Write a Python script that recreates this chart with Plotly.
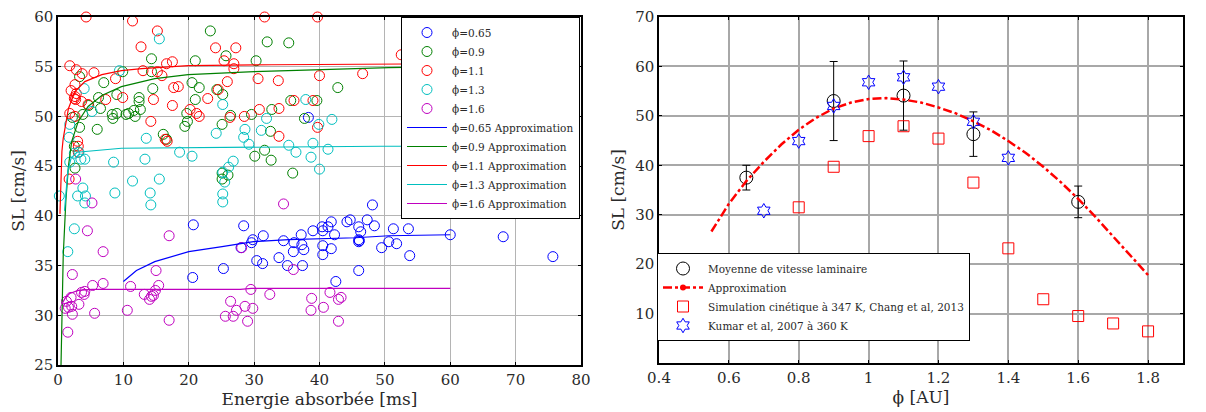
import plotly.graph_objects as go

# ---------------- Left panel data (Energie absorbée [ms], SL [cm/s]) ----------------
phi065_x = [38.3, 48.1, 20.7, 28.4, 44.7, 44.2, 47.3, 48.4, 41.8, 40.4, 41.3, 40.5, 42.3, 46.0, 46.3, 39.0, 37.2,
            51.3, 53.6, 31.4, 29.8, 29.6, 34.5, 36.1, 37.3, 37.6, 36.0, 40.5, 41.8, 40.5, 46.0, 46.0, 46.1, 50.6,
            51.8, 49.5, 28.0, 30.4, 31.3, 33.8, 35.1, 37.4, 25.3, 46.0, 20.6, 42.5, 53.8, 60.0, 68.1, 75.7]
phi065_y = [49.9, 41.1, 39.1, 39.0, 39.6, 39.4, 39.6, 39.0, 39.4, 38.9, 38.9, 38.5, 38.1, 38.9, 38.4, 38.5, 38.1,
            38.7, 38.7, 38.0, 37.6, 37.3, 37.5, 37.3, 37.1, 36.6, 36.4, 37.0, 36.7, 36.1, 37.6, 37.4, 37.5, 37.4,
            37.2, 36.8, 36.8, 35.5, 35.2, 35.8, 35.0, 35.0, 34.7, 34.5, 33.8, 33.4, 36.0, 38.1, 37.9, 35.9]

phi09_x = [23.3, 32.0, 35.3, 25.7, 14.3, 21.0, 30.3, 9.9, 14.3, 3.3, 7.0, 14.5, 20.5, 21.6, 24.3, 25.2, 42.8, 9.0,
           6.2, 12.4, 12.4, 21.0, 35.6, 39.6, 6.5, 4.7, 12.6, 11.6, 10.8, 9.0, 8.3, 8.4, 10.4, 11.8, 19.7, 19.8,
           19.4, 3.8, 2.2, 3.3, 6.0, 25.1, 26.4, 29.6, 32.7, 37.7, 16.1, 16.6, 32.5, 31.6, 30.1, 32.6, 35.9, 2.5,
           2.6, 25.1, 26.0, 25.1]
phi09_y = [58.6, 57.5, 57.4, 56.1, 55.8, 55.6, 55.6, 54.5, 54.5, 54.0, 53.4, 52.8, 53.4, 52.9, 52.7, 52.2, 52.9, 52.2,
           51.9, 51.9, 51.5, 51.7, 51.6, 51.6, 50.8, 51.1, 50.7, 50.6, 50.3, 50.3, 50.2, 49.8, 50.2, 50.0, 50.3, 49.5,
           49.0, 50.2, 49.9, 48.9, 48.7, 49.2, 50.1, 50.2, 50.7, 49.8, 48.2, 47.7, 48.5, 46.6, 46.0, 45.6, 44.3, 47.0,
           44.8, 44.3, 44.1, 43.7]

phi11_x = [4.3, 11.4, 15.2, 12.7, 31.6, 39.7, 24.1, 27.2, 25.4, 26.9, 26.9, 17.5, 16.6, 1.8, 2.8, 3.7, 5.5, 13.0,
           15.2, 15.9, 8.8, 40.0, 46.6, 30.6, 33.7, 25.9, 2.6, 2.0, 2.8, 17.7, 18.4, 24.5, 9.9, 7.3, 2.5, 2.7, 2.6,
           3.6, 4.6, 14.6, 22.9, 17.5, 20.2, 21.2, 21.6, 1.8, 2.6, 14.2, 26.3, 28.5, 30.8, 33.8, 36.1, 39.0, 39.7,
           33.8, 16.4, 16.7, 3.0, 3.1, 3.1, 1.7, 52.5]
phi11_y = [60.0, 59.6, 58.6, 57.0, 60.0, 60.0, 56.9, 56.9, 55.6, 55.3, 54.8, 55.5, 55.3, 55.1, 54.7, 54.3, 54.4, 54.6,
           54.5, 54.1, 53.8, 54.1, 54.3, 53.8, 53.6, 53.5, 53.2, 52.6, 52.3, 52.9, 53.0, 52.7, 51.9, 51.7, 51.8, 51.7,
           52.0, 51.5, 51.2, 51.7, 51.8, 51.1, 50.7, 50.3, 50.0, 50.3, 50.0, 49.5, 49.9, 50.0, 50.7, 50.8, 51.6, 51.6,
           48.9, 48.0, 47.7, 47.5, 47.5, 47.0, 46.4, 43.7, 56.2]

phi13_x = [15.5, 9.4, 4.0, 5.2, 25.2, 37.9, 31.9, 41.9, 39.9, 28.6, 28.4, 31.1, 24.2, 29.2, 13.5, 1.8, 1.7, 2.5,
           3.2, 3.5, 4.1, 18.6, 20.5, 26.8, 35.3, 36.4, 39.0, 41.3, 38.7, 40.0, 13.3, 8.5, 1.8, 11.4, 15.5, 3.8,
           0.2, 3.0, 4.2, 4.1, 8.7, 14.1, 14.2, 26.1, 25.2, 25.5, 25.2, 25.2, 2.5, 1.5]
phi13_y = [57.8, 54.6, 52.8, 50.5, 51.2, 51.7, 49.8, 49.7, 49.2, 48.7, 47.9, 48.6, 48.3, 47.2, 47.8, 49.2, 47.9, 46.3,
           46.4, 45.7, 45.7, 46.4, 46.0, 45.5, 47.1, 46.4, 47.3, 46.7, 45.9, 44.7, 45.7, 45.4, 45.4, 43.5, 43.7, 42.8,
           42.0, 42.0, 42.0, 41.3, 42.3, 42.3, 41.1, 44.9, 44.4, 43.4, 42.2, 41.4, 38.7, 36.4]

phi16_x = [2.7, 5.2, 34.5, 4.5, 17.0, 6.9, 28.1, 2.2, 6.9, 5.3, 15.0, 15.4, 14.9, 14.6, 14.3, 13.2, 14.0, 11.1,
           10.6, 17.0, 5.6, 3.6, 4.0, 4.1, 3.2, 2.0, 1.3, 1.1, 1.6, 2.1, 2.2, 1.5, 29.5, 32.4, 26.4, 28.6, 29.8,
           27.3, 25.6, 26.8, 29.0, 36.0, 38.8, 38.7, 40.6, 41.6, 43.3, 42.9, 42.9]
phi16_y = [43.7, 41.3, 41.2, 38.5, 38.0, 36.4, 36.8, 34.1, 33.2, 33.0, 34.5, 33.0, 32.5, 32.0, 31.9, 32.1, 31.6, 32.9,
           30.5, 29.5, 30.2, 32.3, 32.1, 32.4, 31.1, 31.8, 31.4, 30.7, 30.8, 30.9, 30.1, 28.3, 32.6, 32.1, 31.4, 30.9,
           30.7, 30.5, 29.9, 29.9, 29.4, 34.6, 31.7, 30.5, 30.8, 32.3, 31.8, 31.6, 29.4]

# approximation curves
fit065_x = [10.0, 12.0, 14.8, 20.0, 25.1, 29.9, 35.3, 39.8, 45.5, 50.6, 60.0]
fit065_y = [33.4, 34.5, 35.4, 36.4, 36.9, 37.4, 37.6, 37.7, 37.8, 38.0, 38.1]
fit09_x = [0.46, 0.8, 1.2, 1.6, 2.1, 3.1, 4.6, 6.7, 9.7, 14.8, 19.9, 30.0, 40.4, 50.6, 60.0]
fit09_y = [25.0, 36.0, 41.5, 45.0, 47.5, 49.5, 51.0, 52.1, 53.0, 53.8, 54.2, 54.5, 54.7, 54.9, 55.0]
fit11_x = [0.3, 0.45, 0.6, 0.8, 1.1, 1.6, 2.6, 4.1, 6.7, 9.7, 12.8, 19.9, 32.7, 60.0]
fit11_y = [40.2, 44.0, 46.5, 47.8, 49.0, 50.8, 52.5, 53.5, 54.2, 54.6, 54.8, 55.1, 55.2, 55.3]
fit13_x = [1.0, 1.5, 2.0, 2.9, 9.7, 27.1, 49.5, 60.0]
fit13_y = [40.5, 44.5, 45.8, 46.4, 46.8, 46.9, 47.0, 47.0]
fit16_x = [0.56, 1.07, 1.8, 3.1, 5.2, 27.9, 29.6, 60.0]
fit16_y = [31.1, 31.7, 32.2, 32.5, 32.6, 32.6, 32.7, 32.7]

# ---------------- Right panel data (phi [AU], SL [cm/s]) ----------------
moy_phi = [0.65, 0.9, 1.1, 1.3, 1.6]
moy_sl = [37.5, 53.0, 54.1, 46.3, 32.6]
moy_err = [2.5, 8.0, 7.0, 4.5, 3.2]

approx_phi = [0.55, 0.6, 0.65, 0.7, 0.75, 0.8, 0.85, 0.9, 0.95, 1.0, 1.05, 1.1, 1.15, 1.2, 1.25, 1.3,
              1.35, 1.4, 1.45, 1.5, 1.55, 1.6, 1.65, 1.7, 1.75, 1.8]
approx_sl = [26.6, 32.2, 36.8, 40.7, 44.2, 47.2, 49.6, 51.5, 52.7, 53.4, 53.6, 53.3, 52.7, 51.7, 50.5, 48.9,
             47.1, 44.9, 42.5, 39.7, 36.6, 33.2, 29.5, 25.6, 21.7, 17.8]

chang_phi = [0.8, 0.9, 1.0, 1.1, 1.2, 1.3, 1.4, 1.5, 1.6, 1.7, 1.8]
chang_sl = [31.5, 39.7, 45.9, 47.9, 45.4, 36.5, 23.2, 12.9, 9.5, 8.0, 6.4]

kumar_phi = [0.7, 0.8, 0.9, 1.0, 1.1, 1.2, 1.3, 1.4]
kumar_sl = [30.8, 44.9, 52.0, 56.8, 57.8, 55.9, 48.8, 41.5]

left_series = [
    ("ϕ=0.65", phi065_x, phi065_y, fit065_x, fit065_y, "#0000ff"),
    ("ϕ=0.9", phi09_x, phi09_y, fit09_x, fit09_y, "#008000"),
    ("ϕ=1.1", phi11_x, phi11_y, fit11_x, fit11_y, "#ff0000"),
    ("ϕ=1.3", phi13_x, phi13_y, fit13_x, fit13_y, "#00bfbf"),
    ("ϕ=1.6", phi16_x, phi16_y, fit16_x, fit16_y, "#bf00bf"),
]

# page body has an 8px margin: the figure is drawn 8px in from the top-left corner
OFF = 8
W, H = 1206 - OFF, 412 - OFF


def px(x):
    return (x - OFF) / W


def py(y):
    return 1 - (y - OFF) / H


FONT = "DejaVu Serif, Liberation Serif, serif"
TXT = "#2a2a2a"
fig = go.Figure()

for name, xs, ys, fx, fy, col in left_series:
    fig.add_trace(go.Scatter(
        x=xs, y=ys, mode="markers", name=name, xaxis="x", yaxis="y",
        marker=dict(symbol="circle-open", size=10, color=col, line=dict(width=1)),
        cliponaxis=False, legend="legend"))
for name, xs, ys, fx, fy, col in left_series:
    fig.add_trace(go.Scatter(
        x=fx, y=fy, mode="lines", name=name + " Approximation", xaxis="x", yaxis="y",
        line=dict(color=col, width=1.2), legend="legend"))

# right panel
fig.add_trace(go.Scatter(
    x=moy_phi, y=moy_sl, mode="markers", name="Moyenne de vitesse laminaire", xaxis="x2", yaxis="y2",
    marker=dict(symbol="circle-open", size=13, color="black", line=dict(width=1)),
    error_y=dict(type="data", array=moy_err, visible=True, color="black", thickness=1, width=4),
    legend="legend2"))
fig.add_trace(go.Scatter(
    x=approx_phi, y=approx_sl, mode="lines", name="Approximation", xaxis="x2", yaxis="y2",
    line=dict(color="#ff0000", width=2.5, dash="dashdot"), showlegend=False))
fig.add_trace(go.Scatter(
    x=[None], y=[None], mode="lines+markers", name="Approximation", xaxis="x2", yaxis="y2",
    line=dict(color="#ff0000", width=2.5, dash="dashdot"), marker=dict(size=6, color="#ff0000"),
    legend="legend2"))
fig.add_trace(go.Scatter(
    x=chang_phi, y=chang_sl, mode="markers", name="Simulation cinétique à 347 K, Chang et al, 2013",
    xaxis="x2", yaxis="y2",
    marker=dict(symbol="square-open", size=11, color="#ff0000", line=dict(width=1)), legend="legend2"))
fig.add_trace(go.Scatter(
    x=kumar_phi, y=kumar_sl, mode="markers", name="Kumar et al, 2007 à 360 K", xaxis="x2", yaxis="y2",
    marker=dict(symbol="hexagram-open", size=11, color="#0000ff", line=dict(width=1)), legend="legend2"))

axis_common = dict(showline=True, linecolor="black", linewidth=1.5, mirror="ticks", ticks="inside",
                   ticklen=3, tickcolor="black", showgrid=True, zeroline=False, automargin=False,
                   ticklabeloverflow="allow",
                   tickfont=dict(family=FONT, size=15, color=TXT))
title_font = dict(family=FONT, size=17, color=TXT)

fig.update_layout(
    width=W, height=H,
    margin=dict(l=0, r=0, t=0, b=0, autoexpand=False),
    paper_bgcolor="white", plot_bgcolor="white",
    font=dict(family=FONT, color=TXT),
    xaxis=dict(domain=[px(58), px(581)], range=[0, 80], dtick=10, anchor="y",
               gridcolor="#b4b4b4", gridwidth=1,
               title=dict(text="Energie absorbée [ms]", font=title_font, standoff=4),
               **axis_common),
    yaxis=dict(domain=[py(365), py(17)], range=[25, 60], dtick=5, anchor="x",
               gridcolor="#b4b4b4", gridwidth=1,
               title=dict(text="SL [cm/s]", font=title_font, standoff=6),
               **axis_common),
    xaxis2=dict(domain=[px(659), px(1183)], range=[0.4, 1.9],
                tickvals=[0.4, 0.6, 0.8, 1.0, 1.2, 1.4, 1.6, 1.8],
                ticktext=["0.4", "0.6", "0.8", "1", "1.2", "1.4", "1.6", "1.8"], anchor="y2",
                gridcolor="#a8a8a8", gridwidth=1.5,
                title=dict(text="ϕ [AU]", font=title_font, standoff=4),
                **axis_common),
    yaxis2=dict(domain=[py(363), py(17)], range=[0, 70],
                tickvals=[10, 20, 30, 40, 50, 60, 70], anchor="x2",
                gridcolor="#a8a8a8", gridwidth=1.5,
                title=dict(text="SL [cm/s]", font=title_font, standoff=6),
                **axis_common),
    legend=dict(x=px(401), y=py(17), xanchor="left", yanchor="top",
                bgcolor="white", bordercolor="black", borderwidth=1,
                font=dict(family=FONT, size=10.5, color=TXT), itemwidth=40, tracegroupgap=0),
    legend2=dict(x=px(657), y=py(253), xanchor="left", yanchor="top",
                 bgcolor="white", bordercolor="black", borderwidth=1,
                 font=dict(family=FONT, size=10.5, color=TXT), itemwidth=40, tracegroupgap=0),
)

fig.write_html("out.html")
